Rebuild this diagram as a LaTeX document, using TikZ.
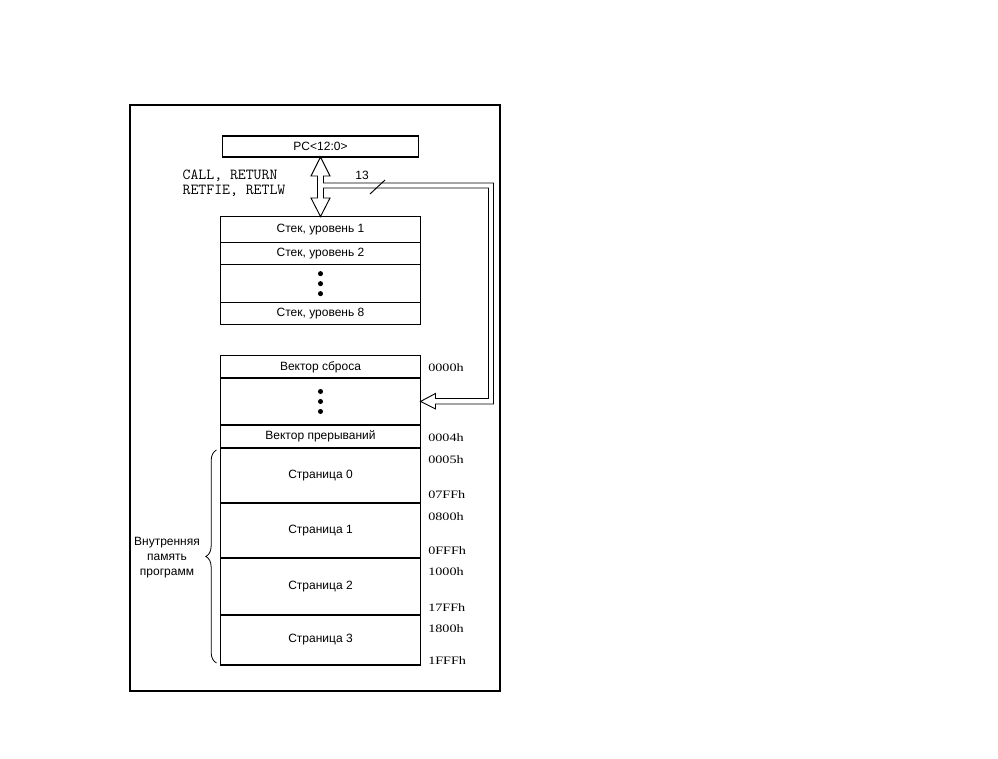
\documentclass[tikz,border=0pt]{standalone}
\usepackage{fontspec}
\setmainfont{Liberation Sans}
\newfontfamily\addrfont[FakeStretch=1.25]{Liberation Serif}
\usepackage{tikz}
\usetikzlibrary{positioning,calc,decorations.pathreplacing}
\tikzstyle{cell} = [rectangle, draw, line width=0.9pt, minimum width=150pt, inner sep=0pt, outer sep=0pt, text centered, font=\fontsize{9}{11}\selectfont]
\tikzstyle{addr} = [anchor=west, inner sep=0pt, font=\addrfont\fontsize{8.5}{9}\selectfont]
\tikzstyle{bus} = [line width=0.7pt, fill=white, line join=miter]
\tikzstyle{label} = [inner sep=0pt, font=\fontsize{9}{11.25}\selectfont]

\begin{document}
\begin{tikzpicture}[x=0.75pt, y=-0.75pt]
\useasboundingbox (0,0) rectangle (998,758);
% Frame
\draw[line width=1pt] (130,105) rectangle (500,691);

% Program counter
\node (pc) [cell, minimum width=147pt, minimum height=15.75pt] at (320.5,146.5) {PC<12:0>};

% Stack
\node (s1) [cell, anchor=north, minimum height=19.5pt] at (320.5,216.5) {Стек, уровень 1};
\node (s2) [cell, below=0pt of s1, minimum height=16.7pt] {Стек, уровень 2};
\node (sdots) [cell, below=0pt of s2, minimum height=28.3pt] {};
\node (s8) [cell, below=0pt of sdots, minimum height=16.2pt] {Стек, уровень 8};

% Program memory
\node (m0) [cell, anchor=north, minimum height=16.7pt] at (320.5,355.7) {Вектор сброса};
\node (mdots) [cell, below=0pt of m0, minimum height=35.25pt] {};
\node (mint) [cell, below=0pt of mdots, minimum height=17.25pt] {Вектор прерываний};
\node (p0) [cell, below=0pt of mint, minimum height=41.25pt] {Страница 0};
\node (p1) [cell, below=0pt of p0, minimum height=41.25pt] {Страница 1};
\node (p2) [cell, below=0pt of p1, minimum height=42.75pt] {Страница 2};
\node (p3) [cell, below=0pt of p2, minimum height=37.5pt] {Страница 3};

% Dots
\foreach \d in {-10,0,10} {
  \fill ($(sdots.center)+(0,\d)$) circle (1.9pt);
  \fill ($(mdots.center)+(0,\d)$) circle (1.9pt);
}

% Stack and PC bus
\draw[bus] (pc.south) -- ++(9.5,19) -- ++(-6.5,0) -- ++(0,7)
  -| ($(mdots.east)+(73,2.5)$) -- ++(-58,0) -- ++(0,5) -- (mdots.east)
  -- ++(15,-8) -- ++(0,5) -| ($(pc.south)+(168,31)$) -- ++(-165,0)
  -- ++(0,10) -- ++(6.5,0) -- (s1.north) -- ++(-9.5,-18.5) -- ++(6.5,0)
  -- ++(0,-22) -- ++(-6.5,0) -- cycle;
\draw[line width=0.7pt] (370,194) -- (385,180);
\node (buswidth) [label] at (362,175) {13};
\node (ops) [align=left, inner sep=0pt, font=\ttfamily\fontsize{11.5}{11.25}\selectfont] at (234,183.5) {CALL, RETURN\\RETFIE, RETLW};

% Addresses
\node (a0000) [addr] at (428,368) {0000h};
\node (a0004) [addr] at (428,438) {0004h};
\node (a0005) [addr] at (428,460) {0005h};
\node (a07FF) [addr] at (428,495) {07FFh};
\node (a0800) [addr] at (428,517) {0800h};
\node (a0FFF) [addr] at (428,551) {0FFFh};
\node (a1000) [addr] at (428,572) {1000h};
\node (a17FF) [addr] at (428,608) {17FFh};
\node (a1800) [addr] at (428,629) {1800h};
\node (a1FFF) [addr] at (428,661) {1FFFh};

% Brace
\draw[line width=0.6pt, decorate, decoration={brace, amplitude=8pt}] ($(p3.south west)+(-4,-2)$) -- ($(p0.north west)+(-4,2)$);
\node (progmem) [label, align=center] at (167,558) {Внутренняя\\память\\программ};
\end{tikzpicture}
\end{document}
